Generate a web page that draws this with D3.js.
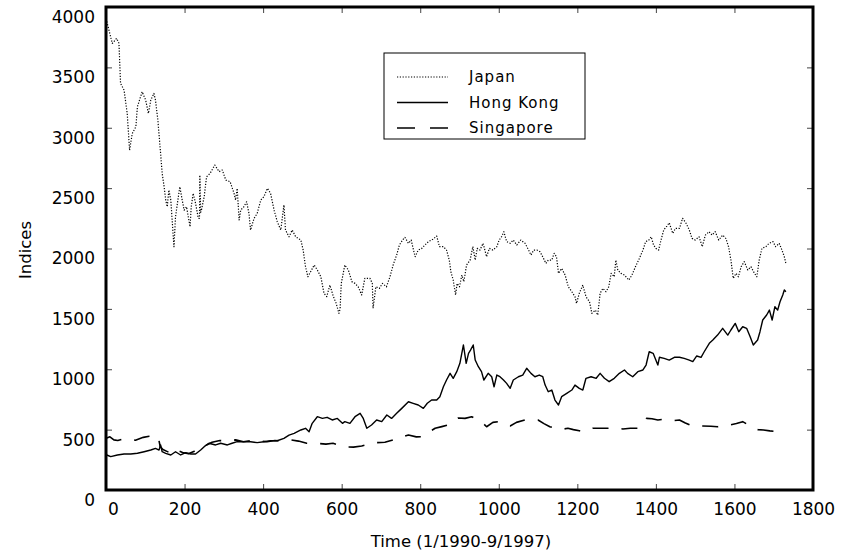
<!DOCTYPE html>
<html>
<head>
<meta charset="utf-8">
<script src="https://cdn.jsdelivr.net/npm/d3@7"></script>
<style>
  body { margin: 0; background: #fff; }
  svg text { font-family: "DejaVu Sans", sans-serif; fill: #000; }
</style>
</head>
<body>
<div id="chart"></div>
<script>
// Stock indices, 1/1990 - 9/1997, [time index, value]
const japan = [
  [2,3880],[16,3698],[27,3740],[33,3700],[37,3367],[46,3312],[54,3119],[60,2815],[67,2953],[76,3008],
  [80,3174],[92,3298],[101,3229],[108,3119],[114,3229],[122,3284],[126,3229],[132,3064],[139,2788],[143,2622],
  [148,2511],[152,2401],[156,2346],[160,2484],[165,2401],[173,2015],[177,2263],[183,2401],[188,2511],[194,2401],
  [199,2318],[205,2346],[214,2180],[217,2346],[222,2457],[228,2374],[235,2250],[238,2250],[239,2608],[241,2300],
  [243,2318],[250,2429],[256,2594],[265,2622],[277,2691],[288,2636],[296,2650],[305,2567],[316,2553],[326,2457],
  [330,2401],[334,2498],[339,2236],[343,2318],[351,2346],[358,2387],[364,2291],[368,2153],[377,2250],[385,2291],
  [394,2401],[402,2429],[411,2498],[419,2457],[428,2318],[436,2222],[445,2153],[453,2360],[457,2153],[466,2097],
  [474,2153],[483,2097],[496,2070],[502,1987],[508,1849],[514,1766],[521,1808],[530,1863],[538,1822],[547,1766],
  [555,1629],[562,1601],[570,1697],[579,1601],[586,1546],[593,1463],[596,1500],[599,1711],[604,1794],[608,1863],
  [617,1822],[626,1725],[634,1711],[642,1683],[651,1615],[659,1753],[672,1753],[678,1711],[680,1505],[687,1683],
  [696,1670],[704,1711],[714,1683],[723,1766],[731,1863],[740,1946],[747,2029],[755,2070],[761,2092],[770,2043],
  [777,2070],[783,1987],[787,1932],[795,1987],[804,2001],[812,2029],[821,2057],[832,2076],[842,2103],[849,2015],
  [859,2015],[867,1987],[874,1904],[878,1808],[884,1739],[890,1615],[894,1711],[900,1683],[906,1780],[911,1725],
  [918,1863],[927,1904],[934,2015],[940,1904],[945,2001],[952,1987],[960,2043],[969,1932],[976,2001],[985,1987],
  [995,2015],[1001,2070],[1007,2097],[1013,2139],[1020,2057],[1029,2043],[1037,2070],[1046,2029],[1056,2070],[1067,2043],
  [1076,1987],[1082,1946],[1089,1987],[1097,1987],[1105,1973],[1114,1918],[1120,1877],[1126,1904],[1135,1904],[1141,1960],
  [1147,1932],[1152,1794],[1160,1835],[1169,1780],[1177,1683],[1186,1642],[1194,1601],[1198,1546],[1205,1629],[1214,1697],
  [1222,1601],[1231,1559],[1237,1463],[1246,1490],[1252,1449],[1258,1629],[1265,1670],[1273,1642],[1280,1683],[1286,1794],
  [1294,1766],[1298,1904],[1303,1822],[1311,1794],[1320,1780],[1331,1739],[1339,1780],[1348,1849],[1358,1918],[1367,1987],
  [1374,2057],[1382,2070],[1388,2097],[1394,2029],[1400,2001],[1407,1987],[1413,2070],[1420,2153],[1428,2186],[1434,2213],
  [1443,2125],[1450,2167],[1460,2167],[1468,2250],[1477,2208],[1485,2153],[1492,2084],[1500,2070],[1510,2097],[1518,2015],
  [1526,2111],[1535,2139],[1543,2111],[1551,2139],[1560,2070],[1570,2111],[1578,2084],[1585,2015],[1591,1904],[1597,1753],
  [1604,1794],[1610,1766],[1617,1849],[1625,1891],[1634,1822],[1642,1849],[1651,1794],[1657,1766],[1663,1904],[1670,2001],
  [1680,2015],[1688,2043],[1698,2057],[1705,2015],[1714,2043],[1721,1987],[1727,1932],[1731,1877]
];

const hongKong = [
  [2,290],[12,276],[29,290],[46,298],[63,298],[80,304],[97,317],[114,331],[126,345],[135,331],
  [139,373],[143,317],[152,304],[165,290],[177,317],[190,290],[203,309],[216,298],[228,298],[241,331],
  [250,359],[262,387],[279,373],[292,387],[309,373],[321,387],[334,400],[351,400],[368,400],[385,392],
  [402,400],[419,408],[436,408],[453,428],[466,455],[479,469],[496,497],[508,511],[517,483],[525,552],
  [538,607],[551,593],[563,602],[576,580],[589,593],[602,552],[608,566],[621,552],[634,607],[647,635],
  [655,593],[664,511],[676,538],[689,580],[702,566],[715,621],[727,593],[740,635],[753,676],[770,731],
  [782,718],[795,704],[808,676],[818,718],[829,745],[842,745],[850,773],[859,855],[867,911],[876,966],
  [884,925],[893,980],[901,1049],[910,1201],[917,1049],[923,1132],[928,1159],[935,1201],[940,1076],[948,1021],
  [956,980],[962,911],[973,966],[982,938],[988,855],[995,952],[1003,938],[1012,911],[1020,883],[1029,842],
  [1037,911],[1050,938],[1061,952],[1071,1008],[1082,966],[1092,938],[1103,952],[1112,938],[1118,869],[1126,814],
  [1135,828],[1143,745],[1152,704],[1160,773],[1173,800],[1186,828],[1194,869],[1205,842],[1214,828],[1222,925],
  [1235,938],[1248,925],[1258,966],[1269,925],[1281,897],[1294,925],[1307,966],[1320,994],[1328,966],[1341,938],
  [1354,980],[1367,994],[1375,1035],[1383,1145],[1393,1132],[1405,1035],[1409,1099],[1421,1090],[1434,1076],[1447,1099],
  [1460,1099],[1472,1090],[1485,1076],[1494,1063],[1504,1110],[1515,1099],[1523,1145],[1536,1215],[1545,1242],[1557,1283],
  [1570,1339],[1583,1283],[1591,1325],[1602,1380],[1611,1311],[1621,1352],[1631,1339],[1640,1269],[1648,1201],[1659,1242],
  [1665,1311],[1672,1408],[1682,1449],[1689,1490],[1696,1408],[1703,1518],[1710,1490],[1716,1559],[1723,1615],[1727,1656],
  [1731,1642]
];

const singapore = [
  [2,430],[10,440],[20,415],[30,410],[45,425],[60,420],[75,412],[95,436],[110,445],[125,450],
  [133,440],[138,360],[145,335],[155,320],[168,300],[180,330],[195,310],[210,300],[225,320],[240,335],
  [255,370],[270,395],[290,410],[310,405],[330,415],[350,400],[370,410],[390,405],[410,400],[430,410],
  [450,405],[470,415],[490,405],[511,387],[540,385],[560,380],[578,387],[595,370],[613,356],[630,355],
  [651,364],[670,380],[689,392],[710,395],[731,414],[750,435],[770,455],[790,440],[804,441],[820,475],
  [838,511],[855,525],[871,538],[885,575],[897,596],[914,593],[931,607],[945,585],[956,566],[969,524],
  [985,560],[998,566],[1015,550],[1029,530],[1045,560],[1067,580],[1085,582],[1100,580],[1115,550],[1130,524],
  [1151,503],[1165,505],[1176,511],[1190,500],[1205,491],[1214,483],[1225,495],[1239,511],[1260,512],[1277,511],
  [1295,515],[1316,505],[1335,511],[1354,511],[1365,550],[1376,593],[1390,590],[1405,580],[1420,585],[1433,580],
  [1447,575],[1460,580],[1475,555],[1492,530],[1505,532],[1519,530],[1540,528],[1557,524],[1572,530],[1587,538],
  [1605,550],[1621,566],[1635,540],[1648,511],[1660,500],[1674,497],[1690,490],[1710,483]
];

const xTicks = [0, 200, 400, 600, 800, 1000, 1200, 1400, 1600, 1800];
const yTicks = [0, 500, 1000, 1500, 2000, 2500, 3000, 3500, 4000];
const seriesNames = ['Japan', 'Hong Kong', 'Singapore'];

const width = 845;
const height = 554;
const margin = { top: 7, right: 32, bottom: 64, left: 106 };

const svg = d3.select('#chart')
  .append('svg')
  .attr('width', width)
  .attr('height', height);

const x = d3.scaleLinear().domain([0, 1800]).range([margin.left, width - margin.right]);
const y = d3.scaleLinear().domain([0, 4000]).range([height - margin.bottom, margin.top]);

// Line styles per series
const styles = {
  'Japan': { width: 1.2, dash: '1.2,1.6' },
  'Hong Kong': { width: 1.4, dash: null },
  'Singapore': { width: 1.6, dash: '16,13' }
};

const line = d3.line()
  .x(d => x(d[0]))
  .y(d => y(d[1]));

const series = [japan, hongKong, singapore];

svg.append('g')
  .attr('class', 'lines')
  .selectAll('path')
  .data(series)
  .enter()
  .append('path')
  .attr('d', line)
  .attr('fill', 'none')
  .attr('stroke', '#000')
  .attr('stroke-width', (d, i) => styles[seriesNames[i]].width)
  .attr('stroke-dasharray', (d, i) => styles[seriesNames[i]].dash)
  .attr('stroke-linejoin', 'round');

// Axes: ticks point inward on all four sides
const fmt = d3.format('d');

const xBottom = svg.append('g')
  .attr('transform', `translate(0, ${y(0)})`)
  .call(d3.axisBottom(x).tickValues(xTicks).tickFormat(fmt).tickSize(-6).tickPadding(13));

const yLeft = svg.append('g')
  .attr('transform', `translate(${x(0)}, 0)`)
  .call(d3.axisLeft(y).tickValues(yTicks).tickFormat(fmt).tickSize(-6).tickPadding(11));

svg.append('g')
  .attr('transform', `translate(0, ${y(4000)})`)
  .call(d3.axisTop(x).tickValues(xTicks).tickSize(-6).tickFormat(''));

svg.append('g')
  .attr('transform', `translate(${x(1800)}, 0)`)
  .call(d3.axisRight(y).tickValues(yTicks).tickSize(-6).tickFormat(''));

svg.selectAll('.domain').remove();
svg.selectAll('.tick line').attr('stroke', '#444').attr('stroke-width', 1);

xBottom.selectAll('text')
  .style('font-size', '17px')
  .attr('dx', d => d === 0 ? 7 : 0);

yLeft.selectAll('text')
  .style('font-size', '17px')
  .attr('y', 10);

// Frame
svg.append('rect')
  .attr('x', x(0))
  .attr('y', y(4000))
  .attr('width', x(1800) - x(0))
  .attr('height', y(0) - y(4000))
  .attr('fill', 'none')
  .attr('stroke', '#000')
  .attr('stroke-width', 3);

// Axis titles
svg.append('text')
  .attr('x', 461)
  .attr('y', 547)
  .attr('text-anchor', 'middle')
  .style('font-size', '16.5px')
  .text('Time (1/1990-9/1997)');

svg.append('text')
  .attr('transform', 'translate(31, 250) rotate(-90)')
  .attr('text-anchor', 'middle')
  .style('font-size', '16.5px')
  .text('Indices');

// Legend
const legend = svg.append('g')
  .attr('class', 'legend')
  .attr('transform', 'translate(384, 53)');

legend.append('rect')
  .attr('width', 201)
  .attr('height', 86)
  .attr('fill', '#fff')
  .attr('stroke', '#000')
  .attr('stroke-width', 1);

const legendItems = legend.selectAll('g.item')
  .data(seriesNames)
  .enter()
  .append('g')
  .attr('class', 'item')
  .attr('transform', (d, i) => `translate(0, ${24 + i * 25.5})`);

legendItems.append('line')
  .attr('x1', 13)
  .attr('x2', 64)
  .attr('stroke', '#000')
  .attr('stroke-width', d => styles[d].width)
  .attr('stroke-dasharray', d => d === 'Singapore' ? '18,15' : styles[d].dash);

legendItems.append('text')
  .attr('x', 85)
  .attr('dy', '0.35em')
  .style('font-size', '15px')
  .style('letter-spacing', '1px')
  .text(d => d);
</script>
</body>
</html>
